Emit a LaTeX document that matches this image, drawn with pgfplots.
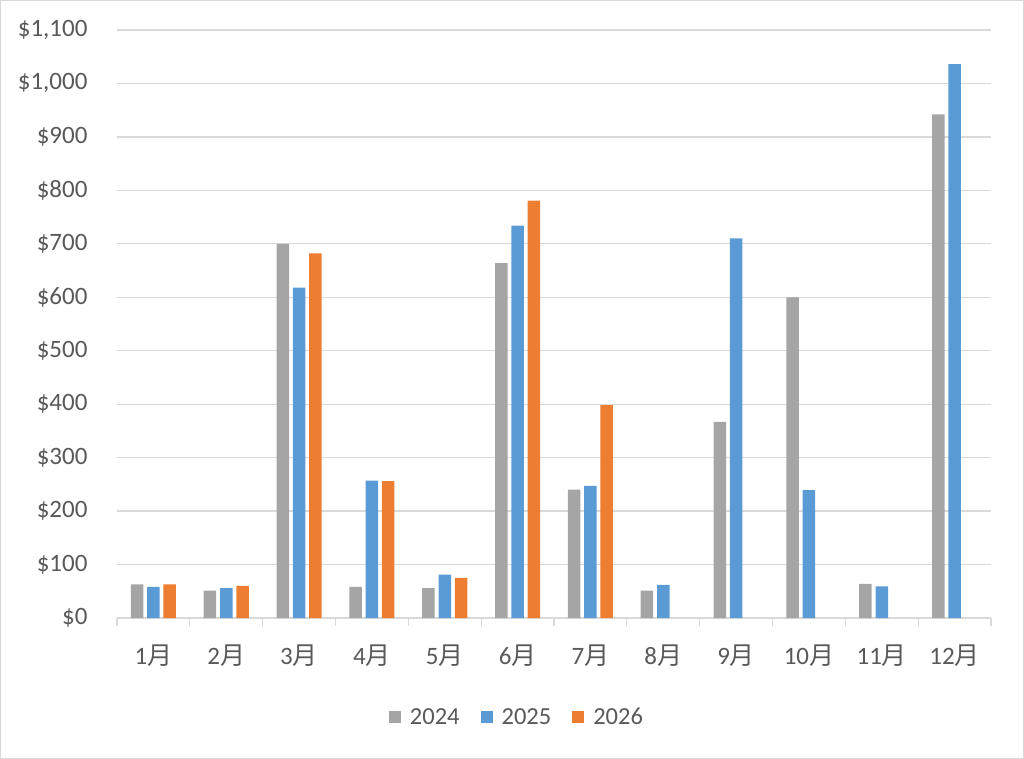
\documentclass[border=0pt]{standalone}
\usepackage{fontspec}
\setmainfont{Carlito}
\newfontfamily\cjk{Noto Sans CJK JP}
\usepackage{pgfplots}
\pgfplotsset{compat=1.18}
\definecolor{txt}{HTML}{595959}
\definecolor{grd}{HTML}{D9D9D9}
\definecolor{c24}{HTML}{A5A5A5}
\definecolor{c25}{HTML}{5B9BD5}
\definecolor{c26}{HTML}{ED7D31}
\newcommand{\m}[1]{#1{\cjk 月}}
\pgfplotsset{
  sq/.style={fill=#1, draw=none,
    legend image code/.code={\fill[#1] (0pt,-6pt) rectangle (12pt,6pt);}},
}
\begin{document}
\begin{tikzpicture}
\path[use as bounding box] (-117pt,-141pt) rectangle (907pt,618pt);
\draw[grd, line width=1pt] (-116.5pt,-140.5pt) rectangle (906.5pt,617.5pt);
\begin{axis}[
  at={(0pt,0pt)}, anchor=south west,
  scale only axis, width=874pt, height=588pt,
  ymin=0, ymax=1100, ytick={0,100,...,1100},
  yticklabels={{\$0},{\$100},{\$200},{\$300},{\$400},{\$500},{\$600},{\$700},{\$800},{\$900},{\$1,000},{\$1,100}},
  xmin=-0.5, xmax=11.5, xtick={0,...,11},
  xticklabels={\m{1},\m{2},\m{3},\m{4},\m{5},\m{6},\m{7},\m{8},\m{9},\m{10},\m{11},\m{12}},
  xtick pos=bottom, ytick pos=left,
  axis line style={draw=none},
  ymajorgrids, grid style={grd, line width=1.3pt},
  major tick length=0pt,
  tick style={draw=none},
  extra x ticks={-0.5,0.5,...,11.5},
  extra x tick labels={},
  extra x tick style={major tick length=8pt, tick align=outside, tick style={draw=grd, line width=1.3pt}},
  tick label style={font=\fontsize{25}{30}\selectfont, text=txt},
  yticklabel style={xshift=-26pt},
  xticklabel style={yshift=-23pt},
  ybar=3.8pt, bar width=12.5pt,
  legend style={at={(0.4565,-0.1684)}, anchor=center, draw=none, fill=none,
    font=\fontsize{24.5}{29}\selectfont, text=txt, inner sep=0pt,
    nodes={inner sep=0pt},
    /tikz/every odd column/.append style={column sep=9pt},
    /tikz/every even column/.append style={column sep=21pt}},
  legend columns=3,
  clip=false,
]
\addplot[sq=c24] coordinates {(0,63) (1,51) (2,700) (3,58) (4,56) (5,664) (6,240) (7,51) (8,367) (9,600) (10,64) (11,942)};
\addplot[sq=c25] coordinates {(0,58) (1,56) (2,618) (3,257) (4,81) (5,734) (6,247) (7,62) (8,710) (9,239) (10,59) (11,1036)};
\addplot[sq=c26] coordinates {(0,63) (1,60) (2,682) (3,256) (4,75) (5,781) (6,398)};
\legend{2024,2025,2026}
\end{axis}
\end{tikzpicture}
\end{document}
